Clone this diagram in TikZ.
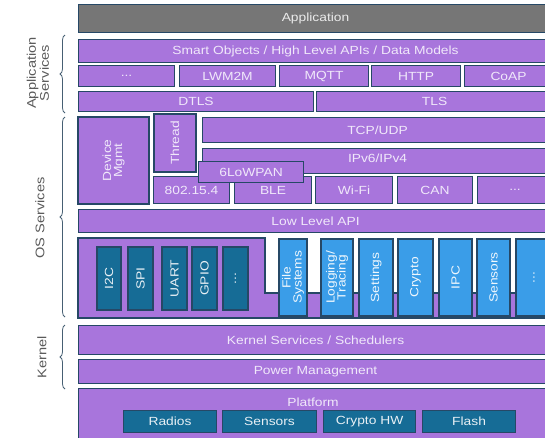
\documentclass[tikz,border=0pt]{standalone}
\usepackage{fontspec}
\setmainfont{Liberation Sans}[FakeStretch=1.17]
\usepackage{xcolor}
\usepackage{tikz}
\usetikzlibrary{positioning, decorations.pathreplacing}
\definecolor{layerfill}{RGB}{168,117,220}
\definecolor{layeredge}{RGB}{38,72,102}
\definecolor{layertext}{RGB}{240,232,250}
\definecolor{appfill}{RGB}{118,118,118}
\definecolor{drvfill}{RGB}{22,108,150}
\definecolor{svcfill}{RGB}{58,157,232}
\definecolor{sidetext}{RGB}{90,90,90}
\definecolor{bracecol}{RGB}{70,95,115}

\begin{document}
\begin{tikzpicture}[
  x=1pt, y=-1pt,
  box/.style={rectangle, draw=layeredge, line width=1.1pt, fill=layerfill,
              text=layertext, font=\fontsize{11.8}{12.5}\selectfont,
              inner sep=0pt, anchor=north west},
  appbox/.style={box, fill=appfill, text=white!92!black},
  vbox/.style={box, anchor=center, rotate=90, align=center,
               font=\fontsize{11.8}{11}\selectfont},
  drvbox/.style={vbox, fill=drvfill, text=white!90!drvfill},
  svcbox/.style={vbox, fill=svcfill, text=white!92!svcfill},
  hwbox/.style={box, fill=drvfill, text=white!90!drvfill},
  sidelabel/.style={rotate=90, align=center, text=sidetext,
                    font=\fontsize{12.5}{13}\selectfont},
  sidebrace/.style={draw=bracecol, line width=0.8pt,
                    decorate, decoration={brace, amplitude=5pt}}
]
\useasboundingbox (0,0) rectangle (545,437);
\clip (0,0) rectangle (545,437);

% application
\node[appbox, minimum width=474pt, minimum height=28pt] (app) at (78,4) {Application};

% application services
\node[box, minimum width=474pt, minimum height=23pt] (smart) at (78,39)
  {Smart Objects / High Level APIs / Data Models};
\node[box, minimum width=96pt, minimum height=21pt] (protdots) at (78,65) {...};
\node[box, minimum width=96pt, minimum height=21pt] (lwm) at (179,65) {LWM2M};
\node[box, minimum width=89pt, minimum height=21pt] (mqtt) at (279,65) {MQTT};
\node[box, minimum width=89pt, minimum height=21pt] (http) at (371,65) {HTTP};
\node[box, minimum width=88pt, minimum height=21pt] (coap) at (464,65) {CoAP};
\node[box, minimum width=235pt, minimum height=20pt] (dtls) at (78,91) {DTLS};
\node[box, minimum width=236pt, minimum height=20pt] (tls) at (316,91) {TLS};

% os services: networking
\node[vbox, minimum width=87pt, minimum height=71pt] (devmgmt) at (113.5,160.5) {Device\\Mgmt};
\node[vbox, minimum width=58pt, minimum height=42pt] (thread) at (175,143) {Thread};
\node[box, minimum width=350pt, minimum height=25pt] (tcp) at (202,117) {TCP/UDP};
\node[box, minimum width=350pt, minimum height=25pt] (ip) at (202,148) {\raisebox{5pt}{IPv6/IPv4}};
\node[box, minimum width=76pt, minimum height=27pt] (ieee) at (153,176) {802.15.4};
\node[box, minimum width=77pt, minimum height=27pt] (ble) at (234,176) {\raisebox{-2pt}{BLE}};
\node[box, minimum width=77pt, minimum height=27pt] (wifi) at (315,176) {Wi-Fi};
\node[box, minimum width=75pt, minimum height=27pt] (can) at (397,176) {CAN};
\node[box, minimum width=75pt, minimum height=27pt] (linkdots) at (477,176) {...};
\node[box, minimum width=105pt, minimum height=21pt] (lowpan) at (198,161) {6LoWPAN};

\node[box, minimum width=474pt, minimum height=23pt] (lowapi) at (78,209) {Low Level API};

% os services: drivers and subsystems
\draw[draw=layeredge, line width=1.1pt, fill=layerfill]
  (78,238) -- (265,238) -- (265,293) -- (552,293) -- (552,318) -- (78,318) -- cycle;

\node[drvbox, minimum width=63pt, minimum height=24pt] (i2c) at (109,278.5) {I2C};
\node[drvbox, minimum width=63pt, minimum height=25pt] (spi) at (140.5,278.5) {SPI};
\node[drvbox, minimum width=63pt, minimum height=25pt] (uart) at (174.5,278.5) {UART};
\node[drvbox, minimum width=63pt, minimum height=25pt] (gpio) at (204.5,278.5) {GPIO};
\node[drvbox, minimum width=63pt, minimum height=25pt] (drvdots) at (235.5,278.5) {...};

\node[svcbox, minimum width=77pt, minimum height=28pt] (fs) at (293,277.5) {File\\Systems};
\node[svcbox, minimum width=77pt, minimum height=32pt] (logging) at (337,277.5) {Logging/\\Tracing};
\node[svcbox, minimum width=77pt, minimum height=34pt] (settings) at (376,277.5) {Settings};
\node[svcbox, minimum width=77pt, minimum height=35pt] (crypto) at (415.5,277.5) {Crypto};
\node[svcbox, minimum width=77pt, minimum height=33pt] (ipc) at (455.5,277.5) {IPC};
\node[svcbox, minimum width=77pt, minimum height=33pt] (sensors) at (493.5,277.5) {Sensors};
\node[svcbox, minimum width=77pt, minimum height=36pt] (svcdots) at (534,277.5) {...};

% kernel
\node[box, minimum width=474pt, minimum height=29pt] (kernel) at (78,325) {Kernel Services / Schedulers};
\node[box, minimum width=474pt, minimum height=24pt] (power) at (78,359) {Power Management};

% platform
\node[box, minimum width=474pt, minimum height=60pt] (platform) at (78,388) {};
\node[text=layertext, font=\fontsize{11.8}{12.5}\selectfont] (pftitle) at (313,402) {Platform};
\node[hwbox, minimum width=93pt, minimum height=22pt] (radios) at (123,410) {Radios};
\node[hwbox, minimum width=94pt, minimum height=22pt] (hwsensors) at (222,410) {Sensors};
\node[hwbox, minimum width=92pt, minimum height=22pt] (cryptohw) at (323,410) {Crypto HW};
\node[hwbox, minimum width=93pt, minimum height=22pt] (flash) at (422,410) {Flash};

% side braces
\coordinate (appbot) at (65,113);
\coordinate (apptop) at (65,35);
\coordinate (osbot) at (65,317);
\coordinate (ostop) at (65,117);
\coordinate (kbot) at (65,389);
\coordinate (ktop) at (65,325);
\draw[sidebrace] (appbot) -- (apptop);
\draw[sidebrace] (osbot) -- (ostop);
\draw[sidebrace] (kbot) -- (ktop);
\node[sidelabel] (lblapp) at (38,73) {Application\\Services};
\node[sidelabel] (lblos) at (40,218) {OS Services};
\node[sidelabel] (lblkernel) at (42,357) {Kernel};

\end{tikzpicture}
\end{document}
